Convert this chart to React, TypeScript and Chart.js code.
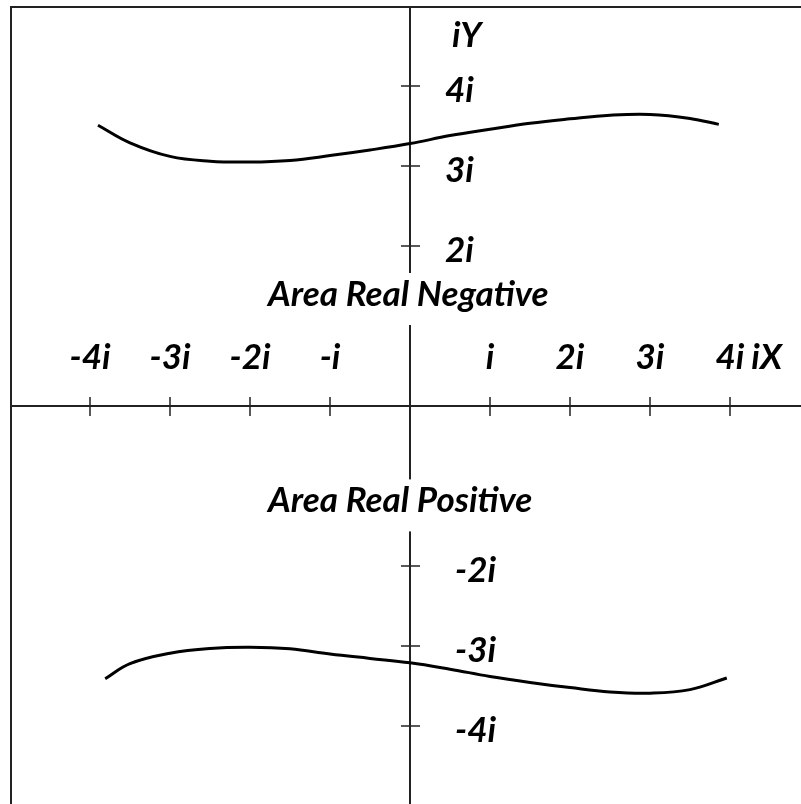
import { useEffect, useRef } from 'react';
import { Chart, registerables } from 'chart.js';

Chart.register(...registerables);

// Tick marks and their labels on the imaginary axes
const xTickValues = [-4, -3, -2, -1, 1, 2, 3, 4];
const xTickLabels = ['-4i', '-3i', '-2i', '-i', 'i', '2i', '3i', '4i'];
const yTickValues = [4, 3, 2, -2, -3, -4];
const yTickLabels = ['4i', '3i', '2i', '-2i', '-3i', '-4i'];
const xAxisTitle = 'iX';
const yAxisTitle = 'iY';
const upperAreaLabel = 'Area Real Negative';
const lowerAreaLabel = 'Area Real Positive';

// Upper branch (real part negative)
const upperX = [-3.9, -3.5, -3.0, -2.5, -2.0, -1.5, -1.0, -0.5, 0, 0.5, 1.0, 1.5, 2.0, 2.5, 3.0, 3.5, 3.86];
const upperY = [3.51, 3.29, 3.12, 3.06, 3.05, 3.07, 3.13, 3.2, 3.28, 3.38, 3.46, 3.535, 3.59, 3.635, 3.645, 3.595, 3.52];

// Lower branch (real part positive)
const lowerX = [-3.81, -3.5, -3.0, -2.5, -2.0, -1.5, -1.0, -0.5, 0, 0.5, 1.0, 1.5, 2.0, 2.5, 3.0, 3.5, 3.96];
const lowerY = [-3.41, -3.22, -3.09, -3.03, -3.015, -3.035, -3.1, -3.155, -3.21, -3.29, -3.38, -3.455, -3.52, -3.575, -3.59, -3.545, -3.4];

const FONT = 'italic bold 35px Lato, "DejaVu Sans", sans-serif';
const INK = '#000';
const AXIS = '#222';

const complexPlane = {
  id: 'complexPlane',
  beforeDatasetsDraw(chart: any) {
    const { ctx, chartArea: a } = chart;
    const xs = chart.scales.x;
    const ys = chart.scales.y;
    const ox = Math.round(xs.getPixelForValue(0));
    const oy = Math.round(ys.getPixelForValue(0));
    ctx.save();
    ctx.strokeStyle = AXIS;
    ctx.lineWidth = 2;
    // left and top edges of the plane
    ctx.beginPath();
    ctx.moveTo(a.left + 1, a.bottom);
    ctx.lineTo(a.left + 1, a.top + 1);
    ctx.lineTo(a.right, a.top + 1);
    ctx.stroke();
    // axes through the origin
    ctx.beginPath();
    ctx.moveTo(a.left, oy);
    ctx.lineTo(a.right, oy);
    ctx.moveTo(ox, a.top);
    ctx.lineTo(ox, a.bottom);
    ctx.stroke();
    // tick marks
    ctx.lineWidth = 1.5;
    ctx.beginPath();
    xTickValues.forEach((v) => {
      const px = Math.round(xs.getPixelForValue(v));
      ctx.moveTo(px, oy - 9);
      ctx.lineTo(px, oy + 10);
    });
    yTickValues.forEach((v) => {
      const py = Math.round(ys.getPixelForValue(v));
      ctx.moveTo(ox - 9, py);
      ctx.lineTo(ox + 10, py);
    });
    ctx.stroke();
    // tick labels
    ctx.font = FONT;
    ctx.fillStyle = INK;
    ctx.textBaseline = 'alphabetic';
    ctx.textAlign = 'center';
    xTickValues.forEach((v, i) => {
      ctx.fillText(xTickLabels[i], xs.getPixelForValue(v), oy - 37);
    });
    ctx.textAlign = 'left';
    yTickValues.forEach((v, i) => {
      ctx.fillText(yTickLabels[i], ox + (v < 0 ? 45 : 35), ys.getPixelForValue(v) + 16);
    });
    // axis titles
    ctx.textAlign = 'right';
    ctx.fillText(xAxisTitle, a.right - 28, oy - 37);
    ctx.textAlign = 'left';
    ctx.fillText(yAxisTitle, ox + 42, a.top + 41);
    ctx.restore();
  },
  afterDatasetsDraw(chart: any) {
    const { ctx } = chart;
    const xs = chart.scales.x;
    const ys = chart.scales.y;
    const ox = xs.getPixelForValue(0);
    ctx.save();
    ctx.font = FONT;
    ctx.textBaseline = 'alphabetic';
    ctx.textAlign = 'left';
    const drawAreaLabel = (text: string, yValue: number) => {
      const left = ox - 142;
      const base = ys.getPixelForValue(yValue);
      const w = ctx.measureText(text).width;
      ctx.fillStyle = '#fff';
      ctx.fillRect(left - 6, base - 33, w + 12, 52);
      ctx.fillStyle = INK;
      ctx.fillText(text, left, base);
    };
    drawAreaLabel(upperAreaLabel, 1.25);
    drawAreaLabel(lowerAreaLabel, -1.33);
    ctx.restore();
  },
};

export default function App() {
  const canvasRef = useRef<HTMLCanvasElement | null>(null);

  useEffect(() => {
    const canvas = canvasRef.current;
    if (!canvas) return;
    const toPoints = (xv: number[], yv: number[]) => xv.map((x, i) => ({ x, y: yv[i] }));
    const chart = new Chart(canvas, {
      type: 'scatter',
      data: {
        datasets: [
          {
            data: toPoints(upperX, upperY),
            showLine: true,
            borderColor: INK,
            borderWidth: 3,
            pointRadius: 0,
            tension: 0.4,
            fill: false,
          },
          {
            data: toPoints(lowerX, lowerY),
            showLine: true,
            borderColor: INK,
            borderWidth: 3,
            pointRadius: 0,
            tension: 0.4,
            fill: false,
          },
        ],
      },
      options: {
        responsive: false,
        animation: false,
        devicePixelRatio: 1,
        layout: { padding: { left: 10, top: 6, right: 10, bottom: 14 } },
        scales: {
          x: { type: 'linear', min: -5, max: 5, display: false },
          y: { type: 'linear', min: -5, max: 5, display: false },
        },
        plugins: {
          legend: { display: false },
          tooltip: { enabled: false },
        },
      },
      plugins: [complexPlane],
    });
    return () => chart.destroy();
  }, []);

  return (
    <div
      style={{
        position: 'fixed',
        left: 0,
        top: 0,
        width: 801,
        height: 804,
        overflow: 'hidden',
        background: '#fff',
      }}
    >
      <canvas ref={canvasRef} width={820} height={820} style={{ display: 'block' }} />
    </div>
  );
}
